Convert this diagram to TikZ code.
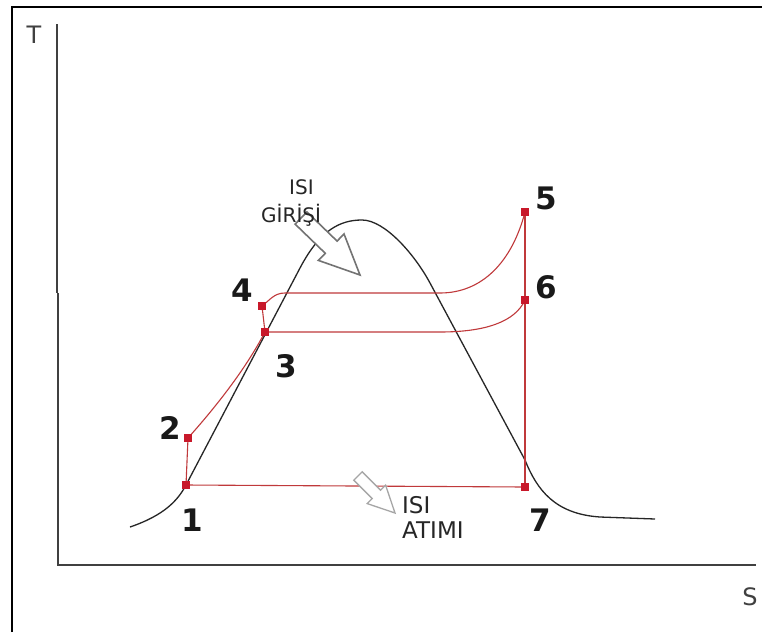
\documentclass[tikz,border=0pt]{standalone}
\usepackage{fontspec}
\setmainfont{DejaVu Sans}
\begin{document}
\begin{tikzpicture}[x=1pt,y=-1pt,
  redline/.style={draw=cyclered,line width=1.1pt},
  pt/.style={fill=ptred,inner sep=0pt,minimum size=8pt,draw=none},
  num/.style={font=\fontsize{31}{32}\selectfont\bfseries,text=black!90,inner sep=0pt},
  lbl/.style={font=\fontsize{20}{22}\selectfont,text=black!85,inner sep=0pt,align=left},
  lblb/.style={font=\fontsize{23}{25}\selectfont,text=black!85,inner sep=0pt,align=left},
  axlbl/.style={font=\fontsize{24}{26}\selectfont,text=black!75,inner sep=0pt},
  dome/.style={draw=black!85,line width=1.3pt},
  blockarrow/.style={fill=white,line width=1.6pt,line join=miter}
]
\definecolor{cyclered}{HTML}{C0393B}
\definecolor{ptred}{HTML}{C8182A}
\useasboundingbox (0,0) rectangle (762,632);
\fill[white] (0,0) rectangle (762,632);
% frame
\draw[line width=2pt,black] (12,632) -- (12,7) -- (762,7);
% axes
\draw[line width=1.6pt,black!75] (57,24) -- (57,293);
\draw[line width=1.6pt,black!75] (58,293) -- (58,565) -- (756,565);
\node[axlbl] (T) at (34,35) {T};
\node[axlbl] (S) at (750,597) {S};
% saturation dome
\draw[dome] (130,527) .. controls (165,515) and (178,500) .. (186,485)
  -- (300,268) .. controls (320,230) and (340,220) .. (362,220)
  .. controls (385,220) and (415,255) .. (430,283)
  -- (525,460) .. controls (537,490) and (555,514) .. (600,517) -- (655,519);
% cycle points
\node[pt] (p1) at (186,485) {};
\node[pt] (p2) at (188,438) {};
\node[pt] (p3) at (265,332) {};
\node[pt] (p4) at (262,306) {};
\node[pt] (p5) at (525,212) {};
\node[pt] (p6) at (525,300) {};
\node[pt] (p7) at (525,487) {};
% cycle lines
\draw[redline] (p1.center) -- (p2.center);
\draw[redline] (p2.center) .. controls (213,410) and (244,372) .. (p3.center);
\draw[redline] (p3.center) -- (p4.center);
\draw[redline] (p4.center) .. controls (270,300) and (274,293) .. (285,293)
  -- (440,293) .. controls (482,293) and (512,262) .. (p5.center);
\draw[redline] (p3.center) -- (440,332) .. controls (485,332) and (515,322) .. (p6.center);
\draw[redline] (p5.center) -- (p7.center);
\draw[redline] (p7.center) -- (p1.center);
% redraw points on top
\foreach \n in {p1,p2,p3,p4,p5,p6,p7}{\fill[ptred] ([xshift=-4pt,yshift=4pt]\n.center) rectangle ([xshift=4pt,yshift=-4pt]\n.center);}
% number labels
\node[num] (n1) at (192,520) {1};
\node[num] (n2) at (170,428) {2};
\node[num] (n3) at (286,366) {3};
\node[num] (n4) at (242,290) {4};
\node[num] (n5) at (546,198) {5};
\node[num] (n6) at (546,287) {6};
\node[num] (n7) at (540,520) {7};
% heat input arrow (tail centre 301,218; tip 360,275)
\draw[blockarrow,draw=black!55]
  (295.1,224.1) -- (325.3,253.3) -- (318.4,260.4) -- (360,275)
  -- (344.0,233.9) -- (337.1,241.1) -- (306.9,211.9) -- cycle;
\node[lbl,anchor=west] (isi1) at (289,187) {ISI};
\node[lbl,anchor=west] (gir) at (261,215) {GİRİŞİ};
% heat rejection arrow
\draw[blockarrow,draw=black!35,line width=1.3pt]
  (353.8,480.2) -- (372.2,498.6) -- (367.2,503.6) -- (395,513)
  -- (385.6,485.2) -- (380.6,490.2) -- (362.2,471.8) -- cycle;
\node[lblb,anchor=west] (isi2) at (402,505) {ISI};
\node[lblb,anchor=west] (atimi) at (402,530) {ATIMI};
\end{tikzpicture}
\end{document}
